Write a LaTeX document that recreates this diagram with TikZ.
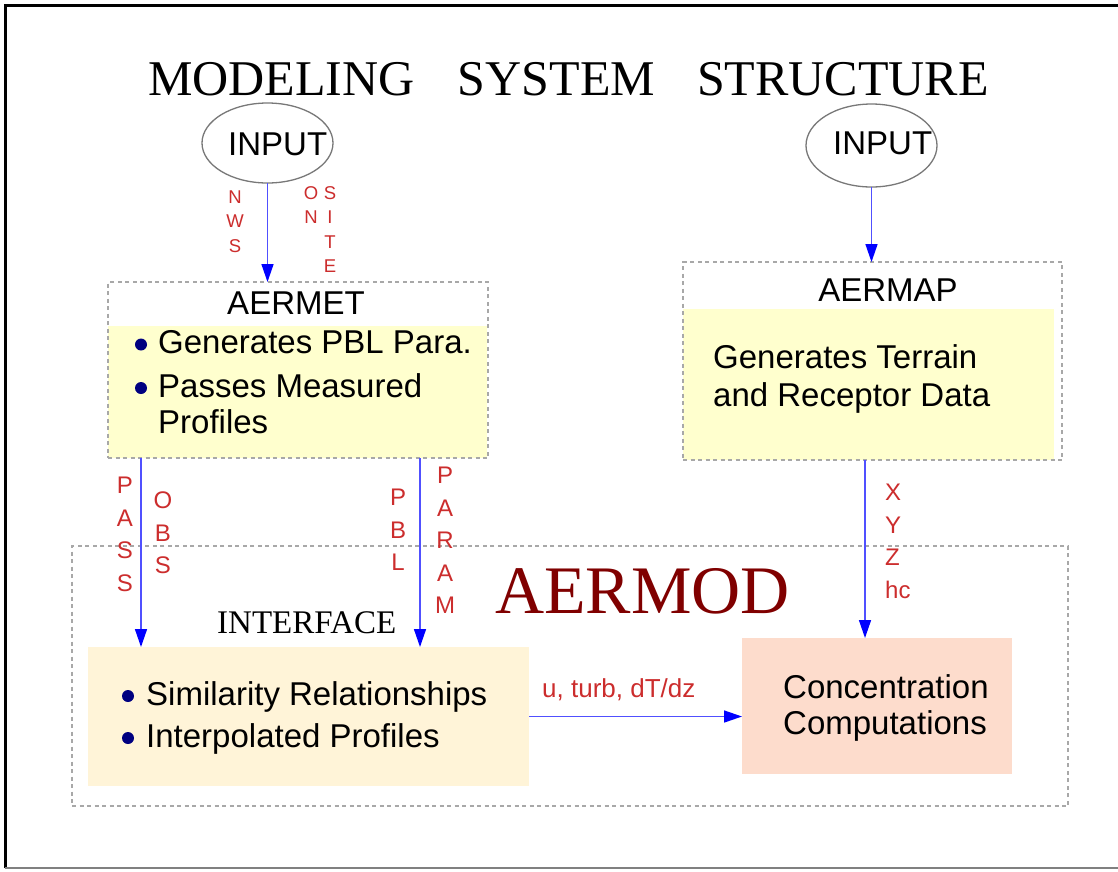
\documentclass[tikz,border=0pt]{standalone}
\usepackage{fontspec}
\setmainfont{Liberation Serif}
\setsansfont{Liberation Sans}
\usetikzlibrary{arrows.meta,shapes.geometric}
\definecolor{arrblue}{RGB}{0,0,255}
\definecolor{linblue}{RGB}{80,80,255}
\definecolor{lblred}{RGB}{204,45,45}
\definecolor{dashgray}{RGB}{168,168,168}
\definecolor{boxyellow}{RGB}{255,255,206}
\definecolor{ifacefill}{RGB}{255,244,216}
\definecolor{concfill}{RGB}{253,220,204}
\definecolor{aermodred}{RGB}{128,0,0}
\definecolor{bulletnavy}{RGB}{0,0,128}
\definecolor{ellgray}{RGB}{120,120,120}
\begin{document}
\begin{tikzpicture}[x=1pt,y=-1pt,
  dashbox/.style={draw=dashgray, line width=1.4pt, dash pattern=on 4pt off 3.5pt, inner sep=0, outer sep=0},
  fillbox/.style={draw=none, inner sep=0, outer sep=0},
  inputell/.style={ellipse, draw=ellgray, line width=1.3pt, inner sep=0, outer sep=0},
  sanstxt/.style={font=\sffamily\fontsize{33}{40}\selectfont, inner sep=0, text=black},
  serftxt/.style={inner sep=0, text=black},
  bulletdot/.style={circle, fill=bulletnavy, inner sep=0, minimum size=12pt},
  lblS/.style={text=lblred, font=\sffamily\fontsize{18.5}{24.5}\selectfont, align=center, inner sep=0},
  lblM/.style={text=lblred, font=\sffamily\fontsize{24}{32.5}\selectfont, align=center, inner sep=0},
  lblU/.style={text=lblred, font=\sffamily\fontsize{26}{30}\selectfont, inner sep=0},
  arr/.style={draw=linblue, line width=1.5pt, -{Triangle[length=18pt,width=12pt,color=arrblue]}}
]
\useasboundingbox (0,0) rectangle (1118,871);
\fill[white] (0,0) rectangle (1118,871);

% outer frame
\draw[line width=3pt] (5,868) -- (5,5) -- (1118,5);
\draw[gray, line width=2.5pt] (5,868) -- (1118,868);

% title
\node[serftxt, anchor=base west, font=\fontsize{50}{60}\selectfont] (title) at (148,95)
  {MODELING\hspace{43pt}SYSTEM\hspace{42pt}STRUCTURE};

% fills
\node[fillbox, fill=boxyellow, minimum width=379pt, minimum height=132pt] (aermetfill) at (297.5,392) {};
\node[fillbox, fill=boxyellow, minimum width=371pt, minimum height=151pt] (aermapfill) at (868.5,384.5) {};
\node[fillbox, fill=ifacefill, minimum width=441pt, minimum height=139pt] (iface) at (308.5,716.5) {};
\node[fillbox, fill=concfill, minimum width=270pt, minimum height=136pt] (conc) at (877,706) {};

% dashed boxes
\node[dashbox, minimum width=380pt, minimum height=176pt] (aermet) at (298,370) {};
\node[dashbox, minimum width=379pt, minimum height=198pt] (aermap) at (872.5,361) {};
\node[dashbox, minimum width=996pt, minimum height=260pt] (aermod) at (570,676) {};

% input ellipses
\node[inputell, minimum width=131pt, minimum height=80pt] (inL) at (267.5,143) {};
\node[inputell, minimum width=131pt, minimum height=83pt] (inR) at (871.5,145.5) {};
\node[sanstxt, anchor=base west] (inLt) at (228,155) {INPUT};
\node[sanstxt, anchor=base west] (inRt) at (833,154) {INPUT};

% box titles
\node[sanstxt, anchor=base] (aermett) at (296,314) {AERMET};
\node[sanstxt, anchor=base] (aermapt) at (888,301) {AERMAP};
\node[serftxt, anchor=base west, text=aermodred, font=\fontsize{68}{80}\selectfont] (aermodt) at (495,613) {AERMOD};
\node[serftxt, anchor=base west, font=\fontsize{33}{40}\selectfont] (ifacet) at (217,633) {INTERFACE};

% AERMET contents
\node[bulletdot] (b1) at (141,344.5) {};
\node[bulletdot] (b2) at (141,388) {};
\node[sanstxt, anchor=base west] (t1) at (158,353) {Generates PBL Para.};
\node[sanstxt, anchor=base west] (t2) at (158,397) {Passes Measured};
\node[sanstxt, anchor=base west] (t3) at (158,433) {Profiles};

% AERMAP contents
\node[sanstxt, anchor=base west] (t4) at (713,368) {Generates Terrain};
\node[sanstxt, anchor=base west] (t5) at (713,406) {and Receptor Data};

% interface contents
\node[bulletdot] (b3) at (128,696) {};
\node[bulletdot] (b4) at (128,738) {};
\node[sanstxt, anchor=base west] (t6) at (146,705) {Similarity Relationships};
\node[sanstxt, anchor=base west] (t7) at (146,747) {Interpolated Profiles};

% concentration contents
\node[sanstxt, anchor=base west] (t8) at (783,698) {Concentration};
\node[sanstxt, anchor=base west] (t9) at (783,734) {Computations};

% red labels
\node[lblS, anchor=north] (nws) at (235,190.5) {N\\W\\S};
\node[lblS, anchor=north] (onl) at (311,186) {O\\N};
\node[lblS, anchor=north] (site) at (330,186) {S\\I\\T\\E};
\node[lblM, anchor=north] (pass) at (125,477) {P\\A\\S\\S};
\node[lblM, anchor=north] (obs) at (163,492) {O\\B\\S};
\node[lblM, anchor=north] (pbl) at (398,489) {P\\B\\L};
\node[lblM, anchor=north] (param) at (445,467) {P\\A\\R\\A\\M};
\node[lblM, anchor=north west, align=left] (xyz) at (885,484) {X\\Y\\Z\\hc};
\node[lblU, anchor=base west] (uturb) at (542,697) {u, turb, dT/dz};

% connectors
\coordinate (cL) at (141,0);
\coordinate (cM) at (420,0);
\coordinate (cR) at (865,0);
\draw[arr] (inL.south) -- (inL.south |- aermet.north);
\draw[arr] (inR.south) -- (inR.south |- aermap.north);
\draw[arr] (aermet.south -| cL) -- (iface.north -| cL);
\draw[arr] (aermet.south -| cM) -- (iface.north -| cM);
\draw[arr] (aermap.south -| cR) -- (conc.north -| cR);
\draw[arr] (iface.east) -- (iface.east -| conc.west);
\end{tikzpicture}
\end{document}
